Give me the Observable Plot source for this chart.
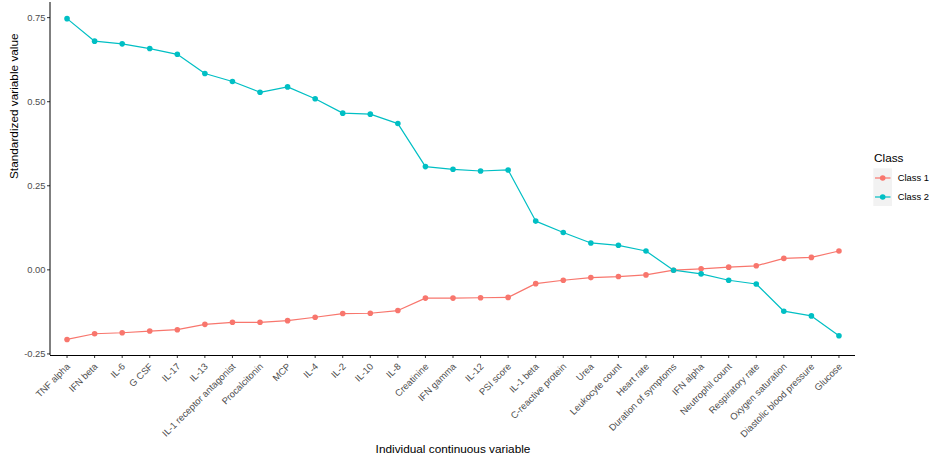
<!DOCTYPE html>
<html>
<head>
<meta charset="utf-8">
<script src="https://cdn.jsdelivr.net/npm/d3@7"></script>
<script src="https://cdn.jsdelivr.net/npm/@observablehq/plot@0.6"></script>
<style>
  body { margin: 0; background: #fff; }
  #chart { position: relative; width: 934px; height: 461px; }
</style>
</head>
<body>
<div id="chart"></div>
<script>
// Standardized means of each continuous variable, by latent class
const variables = [
  "TNF alpha", "IFN beta", "IL-6", "G CSF", "IL-17", "IL-13",
  "IL-1 receptor antagonist", "Procalcitonin", "MCP", "IL-4", "IL-2", "IL-10",
  "IL-8", "Creatinine", "IFN gamma", "IL-12", "PSI score", "IL-1 beta",
  "C-reactive protein", "Urea", "Leukocyte count", "Heart rate",
  "Duration of symptoms", "IFN alpha", "Neutrophil count", "Respiratory rate",
  "Oxygen saturation", "Diastolic blood pressure", "Glucose"
];
const class1 = [
  -0.207, -0.190, -0.187, -0.182, -0.178, -0.162,
  -0.156, -0.156, -0.151, -0.141, -0.130, -0.129,
  -0.121, -0.084, -0.084, -0.083, -0.082, -0.041,
  -0.031, -0.023, -0.020, -0.015,
  -0.001, 0.003, 0.008, 0.012,
  0.034, 0.037, 0.056
];
const class2 = [
  0.747, 0.680, 0.672, 0.658, 0.641, 0.584,
  0.560, 0.528, 0.544, 0.509, 0.466, 0.463,
  0.435, 0.307, 0.299, 0.294, 0.297, 0.145,
  0.111, 0.080, 0.073, 0.056,
  -0.001, -0.012, -0.031, -0.042,
  -0.123, -0.137, -0.196
];
const classes = ["Class 1", "Class 2"];
const colors = ["#F8766D", "#00BFC4"];
const yTicks = [-0.25, 0, 0.25, 0.5, 0.75];
const yDomain = [-0.2547, 0.795];
const xTitle = "Individual continuous variable";
const yTitle = "Standardized variable value";
const legendTitle = "Class";

const rows = [
  ...variables.map((v, i) => ({variable: v, cls: classes[0], value: class1[i]})),
  ...variables.map((v, i) => ({variable: v, cls: classes[1], value: class2[i]}))
];

const font = "'Liberation Sans', Arial, sans-serif";

const plot = Plot.plot({
  width: 934,
  height: 461,
  marginLeft: 50,
  marginRight: 79,
  marginTop: 2,
  marginBottom: 106,
  style: {fontFamily: font, background: "#fff", overflow: "visible"},
  x: {type: "point", domain: variables, padding: 0.6, round: false},
  y: {domain: yDomain},
  color: {domain: classes, range: colors},
  marks: [
    Plot.axisY({
      ticks: yTicks, tickFormat: d => d.toFixed(2), tickSize: 3, tickPadding: 2,
      fontSize: 9.4, color: "#4d4d4d", stroke: "#333", label: null
    }),
    Plot.axisX({
      tickSize: 3, stroke: "#333", tickFormat: null, label: null
    }),
    Plot.axisX({
      tickSize: 0, tickRotate: -45, tickPadding: 6, fontSize: 9.4,
      color: "#4d4d4d", dx: 1.5, dy: 3.5, label: null
    }),
    Plot.ruleY([yDomain[0]], {stroke: "#000", strokeWidth: 1}),
    Plot.text([xTitle], {frameAnchor: "bottom", dy: 97, fontSize: 11.8, fill: "#000"}),
    Plot.text([yTitle], {frameAnchor: "left", dx: -36, rotate: -90, fontSize: 11.8, fill: "#000"}),
    Plot.line(rows, {x: "variable", y: "value", z: "cls", stroke: "cls", strokeWidth: 1.2}),
    Plot.dot(rows, {x: "variable", y: "value", fill: "cls", r: 2.8})
  ]
});

const svg = d3.select(plot);

// Left axis line along the panel edge
const xr = plot.scale("x").range;
const yr = plot.scale("y").range;
svg.append("line")
  .attr("x1", xr[0]).attr("x2", xr[0])
  .attr("y1", Math.min(...yr)).attr("y2", Math.max(...yr))
  .attr("stroke", "#000").attr("stroke-width", 1);

// Legend in the right margin
const lg = svg.append("g").attr("font-family", font).attr("text-anchor", "start");
lg.append("text").attr("x", 874).attr("y", 161.5).attr("font-size", 11.8).attr("fill", "#000").text(legendTitle);
lg.append("rect").attr("x", 873.3).attr("y", 168.3).attr("width", 18.7).attr("height", 37.7).attr("fill", "#F2F2F2");
classes.forEach((c, i) => {
  const cy = 178 + i * 19;
  lg.append("line").attr("x1", 875).attr("x2", 890.5).attr("y1", cy).attr("y2", cy)
    .attr("stroke", colors[i]).attr("stroke-width", 1.2);
  lg.append("circle").attr("cx", 882.7).attr("cy", cy).attr("r", 2.8).attr("fill", colors[i]);
  lg.append("text").attr("x", 897.7).attr("y", cy).attr("dy", "0.35em")
    .attr("font-size", 9.4).attr("fill", "#000").text(c);
});

document.getElementById("chart").appendChild(plot);
</script>
</body>
</html>
